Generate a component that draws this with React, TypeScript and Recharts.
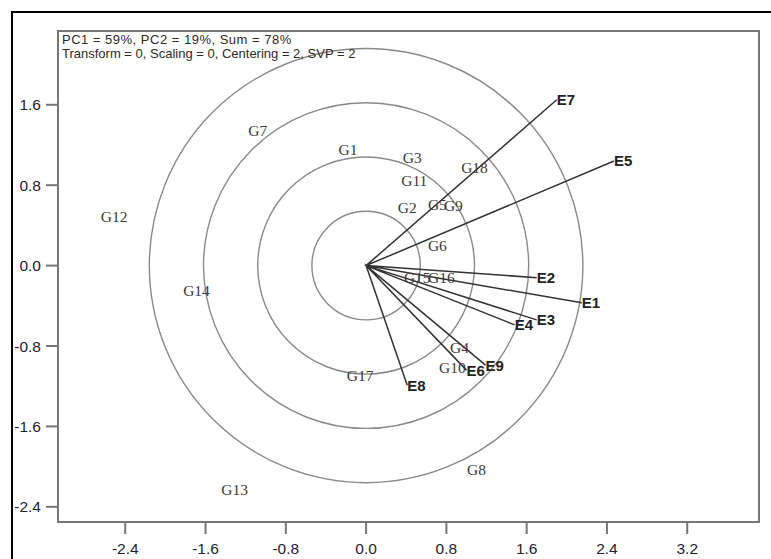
import React from "react";
import {
  ScatterChart,
  Scatter,
  XAxis,
  YAxis,
  ReferenceArea,
} from "recharts";

// Environment (vector) endpoints
const envNames = ["E1", "E2", "E3", "E4", "E5", "E6", "E7", "E8", "E9"];
const envX = [2.15, 1.7, 1.7, 1.48, 2.47, 1.0, 1.9, 0.41, 1.19];
const envY = [-0.37, -0.12, -0.54, -0.59, 1.04, -1.04, 1.65, -1.19, -0.99];

// Genotype points
const genNames = [
  "G1", "G2", "G3", "G4", "G5", "G6", "G7", "G8", "G9",
  "G10", "G11", "G12", "G13", "G14", "G15", "G16", "G17", "G18",
];
const genX = [-0.18, 0.41, 0.46, 0.93, 0.71, 0.71, -1.08, 1.1, 0.87, 0.86, 0.48, -2.51, -1.31, -1.69, 0.51, 0.75, -0.06, 1.08];
const genY = [1.16, 0.58, 1.08, -0.81, 0.61, 0.2, 1.34, -2.03, 0.6, -1.01, 0.85, 0.49, -2.23, -0.25, -0.12, -0.12, -1.09, 0.98];

// Concentric circle radii
const circleRadii = [0.54, 1.08, 1.62, 2.16];

// Axes
const xTicks = [-2.4, -1.6, -0.8, 0.0, 0.8, 1.6, 2.4, 3.2];
const yTicks = [1.6, 0.8, 0.0, -0.8, -1.6, -2.4];
const xDomain = [-3.07, 3.915];
const yDomain = [-2.551, 2.334];

const headerLine1 = "PC1 = 59%, PC2 = 19%, Sum = 78%";
const headerLine2 = "Transform = 0, Scaling = 0, Centering = 2, SVP = 2";

const envData = envNames.map((name, i) => ({ name, x: envX[i], y: envY[i] }));
const genData = genNames.map((name, i) => ({ name, x: genX[i], y: genY[i] }));
const vectorData: { x: number; y: number }[] = [];
envData.forEach((e) => {
  vectorData.push({ x: 0, y: 0 });
  vectorData.push({ x: e.x, y: e.y });
});

const EnvLabel = (props: any) => {
  const { cx, cy, payload } = props;
  return (
    <text
      x={cx}
      y={cy}
      dy="0.36em"
      textAnchor="start"
      fontFamily="Liberation Sans, Arial, sans-serif"
      fontWeight="bold"
      fontSize={15}
      fill="#222"
    >
      {payload.name}
    </text>
  );
};

const GenLabel = (props: any) => {
  const { cx, cy, payload } = props;
  return (
    <text
      x={cx}
      y={cy}
      dy="0.36em"
      textAnchor="middle"
      fontFamily="Liberation Serif, Times New Roman, serif"
      fontSize={15.5}
      fill="#3a3a3a"
    >
      {payload.name}
    </text>
  );
};

const CircleShape = (props: any) => {
  const { x, y, width, height } = props;
  return (
    <ellipse
      cx={x + width / 2}
      cy={y + height / 2}
      rx={Math.abs(width) / 2}
      ry={Math.abs(height) / 2}
      fill="none"
      stroke="#8a8a8a"
      strokeWidth={1.4}
    />
  );
};

const FrameShape = (props: any) => {
  const { x, y, width, height } = props;
  return (
    <rect x={x} y={y} width={width} height={height} fill="none" stroke="#777" strokeWidth={2} />
  );
};

const NoShape = () => <g />;

const tickStyle = {
  fontFamily: "Liberation Sans, Arial, sans-serif",
  fontSize: 15.5,
  fill: "#1e2233",
};

export default function App() {
  return (
    <div
      style={{
        position: "absolute",
        left: 0,
        top: 0,
        width: 771,
        height: 559,
        background: "#fff",
        overflow: "hidden",
      }}
    >
      <div
        style={{
          position: "absolute",
          left: 11,
          top: 11,
          right: 0,
          height: 2,
          background: "#000",
        }}
      />
      <div
        style={{
          position: "absolute",
          left: 11,
          top: 11,
          bottom: 0,
          width: 2,
          background: "#000",
        }}
      />
      <div style={{ position: "absolute", left: 0, top: 0 }}>
        <ScatterChart
          width={771}
          height={559}
          margin={{ top: 31, right: 12, bottom: 0, left: 10 }}
        >
          <XAxis
            type="number"
            dataKey="x"
            domain={xDomain}
            ticks={xTicks}
            tickFormatter={(v: number) => v.toFixed(1)}
            height={37}
            tickSize={12}
            tickMargin={9}
            axisLine={{ stroke: "#777", strokeWidth: 2 }}
            tickLine={{ stroke: "#777", strokeWidth: 2 }}
            tick={tickStyle}
            interval={0}
          />
          <YAxis
            type="number"
            dataKey="y"
            domain={yDomain}
            ticks={yTicks}
            tickFormatter={(v: number) => v.toFixed(1)}
            width={48}
            tickSize={12}
            tickMargin={5}
            axisLine={{ stroke: "#777", strokeWidth: 2 }}
            tickLine={{ stroke: "#777", strokeWidth: 2 }}
            tick={tickStyle}
            interval={0}
          />
          <ReferenceArea
            x1={xDomain[0]}
            x2={xDomain[1]}
            y1={yDomain[0]}
            y2={yDomain[1]}
            ifOverflow="visible"
            shape={FrameShape}
          />
          {circleRadii.map((r) => (
            <ReferenceArea
              key={r}
              x1={-r}
              x2={r}
              y1={-r}
              y2={r}
              ifOverflow="visible"
              shape={CircleShape}
            />
          ))}
          <Scatter
            data={vectorData}
            line={{ stroke: "#333", strokeWidth: 1.5 }}
            lineType="joint"
            shape={NoShape}
            isAnimationActive={false}
          />
          <Scatter data={genData} shape={GenLabel} isAnimationActive={false} />
          <Scatter data={envData} shape={EnvLabel} isAnimationActive={false} />
        </ScatterChart>
      </div>
      <div
        style={{
          position: "absolute",
          left: 62,
          top: 33,
          fontFamily: "Liberation Sans, Arial, sans-serif",
          fontSize: 13,
          lineHeight: "14px",
          color: "#2e2a26",
          whiteSpace: "nowrap",
        }}
      >
        <div style={{ letterSpacing: 0.5 }}>{headerLine1}</div>
        <div>{headerLine2}</div>
      </div>
    </div>
  );
}
